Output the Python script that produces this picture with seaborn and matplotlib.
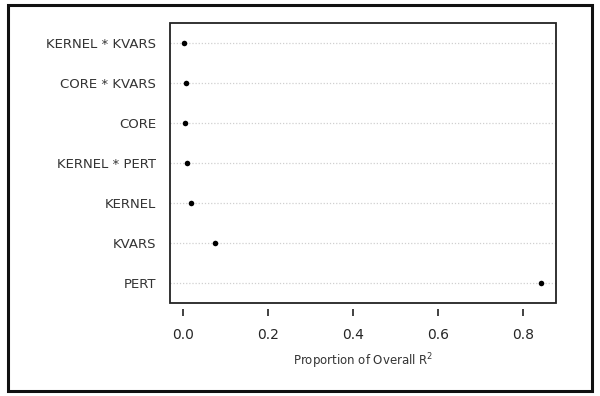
import matplotlib
matplotlib.use("Agg")
import matplotlib.pyplot as plt
from matplotlib.patches import Rectangle
import pandas as pd
import seaborn as sns

terms = ["KERNEL * KVARS", "CORE * KVARS", "CORE", "KERNEL * PERT", "KERNEL", "KVARS", "PERT"]
prop = [0.002, 0.006, 0.005, 0.010, 0.019, 0.075, 0.842]

df = pd.DataFrame({"term": terms, "prop": prop})

sns.set_style("white")
plt.rcParams['font.family'] = ['DejaVu Sans']

fig = plt.figure(figsize=(6, 3.96), dpi=100)
ax = fig.add_axes([170/600, 1 - 303/396, (556-170)/600, (303-23)/396])

# dotted guide lines behind the dots
for i in range(len(terms)):
    ax.axhline(i, color="#d0d0d0", lw=0.9, ls=(0, (1, 1.5)), zorder=0)

sns.stripplot(data=df, x="prop", y="term", order=terms, jitter=False,
              color="black", size=4, ax=ax, zorder=3)

ax.set_xlim(-0.0306, 0.878)
ax.set_ylim(len(terms) - 0.5, -0.5)
ax.set_xticks([0.0, 0.2, 0.4, 0.6, 0.8])
ax.set_xticklabels(["0.0", "0.2", "0.4", "0.6", "0.8"], fontsize=9, color="#333333")
ax.set_yticks(range(len(terms)))
ax.set_yticklabels(terms, fontsize=9.5, color="#333333")
ax.tick_params(axis="y", left=False, length=0, pad=10)
ax.tick_params(axis="x", bottom=True, length=5, width=1.3, direction="out",
               pad=9, color="#333333")
ax.set_ylabel("")
ax.set_xlabel("Proportion of Overall R$^2$", fontsize=8.5, color="#333333", labelpad=7)

# ticks detached from the box, like a lattice plot
for s in ax.spines.values():
    s.set_visible(False)
ax.spines["bottom"].set_position(("outward", 4))
ax.add_patch(Rectangle((0, 0), 1, 1, transform=ax.transAxes, fill=False,
                       edgecolor="#222222", lw=1.3, clip_on=False, zorder=4))

# outer frame around the whole figure
fig.patches.append(Rectangle((8/600, 1 - 391/396), (592-8)/600, (391-5)/396,
                             transform=fig.transFigure, fill=False,
                             edgecolor="#111111", lw=2.2))

fig.savefig("out.png", dpi=100)
